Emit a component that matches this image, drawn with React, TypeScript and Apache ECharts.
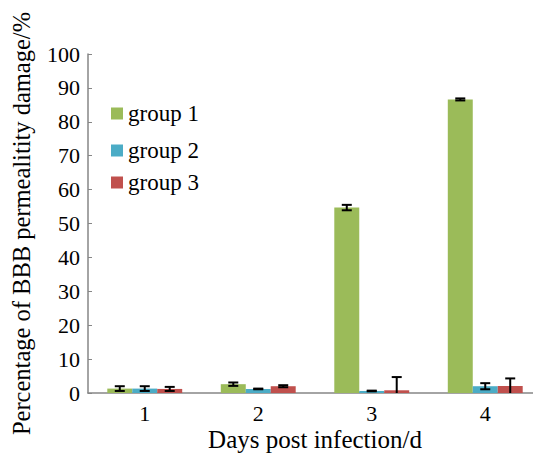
import React, { useEffect, useRef } from "react";
import * as echarts from "echarts";

const categories = ["1", "2", "3", "4"];
const seriesNames = ["group 1", "group 2", "group 3"];
const group1 = [1.3, 2.6, 54.7, 86.6];
const group2 = [1.3, 1.2, 0.6, 2.0];
const group3 = [1.2, 2.0, 0.8, 2.1];
const err1 = [0.7, 0.5, 0.8, 0.3];
const err2 = [0.7, 0.1, 0.1, 0.9];
const err3 = [0.6, 0.3, 3.9, 2.2];
const colors = ["#9BBB59", "#4BACC6", "#C0504D"];

const FONT = "Liberation Serif";
const GAP = 0.34;

export default function App() {
  const ref = useRef<HTMLDivElement>(null);
  useEffect(() => {
    if (!ref.current) return;
    const chart = echarts.init(ref.current, undefined, { renderer: "svg" });
    const values = [group1, group2, group3];
    const errs = [err1, err2, err3];

    const errSeries = values.map((vals, gi) => ({
      type: "custom",
      name: "err" + gi,
      z: 10,
      data: vals.map((v, i) => [i, v, errs[gi][i]]),
      encode: { x: 0, y: 1 },
      renderItem: (params: any, api: any) => {
        const ci = api.value(0);
        const v = api.value(1);
        const e = api.value(2);
        const band = api.size([1, 0])[0];
        const bw = (band * (1 - GAP)) / 3;
        const c = api.coord([ci, v]);
        const x = c[0] + (gi - 1) * bw;
        const hi = api.coord([ci, v + e])[1];
        const lowVal = v - e;
        const lo = api.coord([ci, Math.max(0, lowVal)])[1];
        const cap = 5;
        const style = { stroke: "#000", lineWidth: 2 };
        const children: any[] = [
          { type: "line", shape: { x1: x, y1: hi, x2: x, y2: lo }, style },
          { type: "line", shape: { x1: x - cap, y1: hi, x2: x + cap, y2: hi }, style },
        ];
        if (lowVal > 0) {
          children.push({ type: "line", shape: { x1: x - cap, y1: lo, x2: x + cap, y2: lo }, style });
        }
        return { type: "group", children };
      },
    }));

    const legendTops = [97, 134, 166];
    const richT = (size: number) => ({ t: { fontFamily: FONT, fontSize: size, color: "#000" } });

    chart.setOption({
      animation: false,
      textStyle: { fontFamily: FONT, fontSize: 21 },
      grid: { left: 88, top: 54, bottom: 60, right: -9, containLabel: false, outerBoundsMode: "none" },
      legend: seriesNames.map((n, i) => ({
        data: [n],
        orient: "vertical",
        left: 106,
        top: legendTops[i],
        icon: "rect",
        itemWidth: 12,
        itemHeight: 12,
        itemGap: 4,
        selectedMode: false,
        formatter: "{t|{name}}",
        textStyle: { fontFamily: FONT, fontSize: 23, color: "#000", rich: richT(23) },
      })),
      xAxis: {
        type: "category",
        data: categories,
        name: "Days post infection/d",
        nameLocation: "middle",
        nameGap: 34,
        nameMoveOverlap: false,
        nameTextStyle: { fontFamily: FONT, fontSize: 25, color: "#000" },
        axisLine: { lineStyle: { color: "#868686", width: 1.5 } },
        axisTick: { show: false },
        axisLabel: {
          fontFamily: FONT,
          fontSize: 22,
          color: "#000",
          margin: 9,
          formatter: "{t|{value}}",
          rich: richT(22),
        },
      },
      yAxis: {
        type: "value",
        min: 0,
        max: 100,
        interval: 10,
        name: "Percentage of BBB permealitity damage/%",
        nameLocation: "middle",
        nameGap: 54,
        nameMoveOverlap: false,
        nameTextStyle: { fontFamily: FONT, fontSize: 24.5, color: "#000" },
        axisLine: { show: true, lineStyle: { color: "#868686", width: 1.5 } },
        axisTick: { show: true, inside: true, length: 4, lineStyle: { color: "#868686" } },
        splitLine: { show: false },
        axisLabel: {
          fontFamily: FONT,
          fontSize: 22,
          color: "#000",
          margin: 8,
          formatter: "{t|{value}}",
          rich: richT(22),
        },
      },
      series: [
        ...values.map((vals, gi) => ({
          type: "bar",
          name: seriesNames[gi],
          data: vals,
          barGap: "0%",
          barCategoryGap: GAP * 100 + "%",
          itemStyle: { color: colors[gi] },
        })),
        ...errSeries,
      ],
    });
    return () => chart.dispose();
  }, []);
  return (
    <div
      ref={ref}
      style={{ position: "fixed", left: 0, top: 0, width: 533, height: 453, background: "#fff" }}
    />
  );
}
